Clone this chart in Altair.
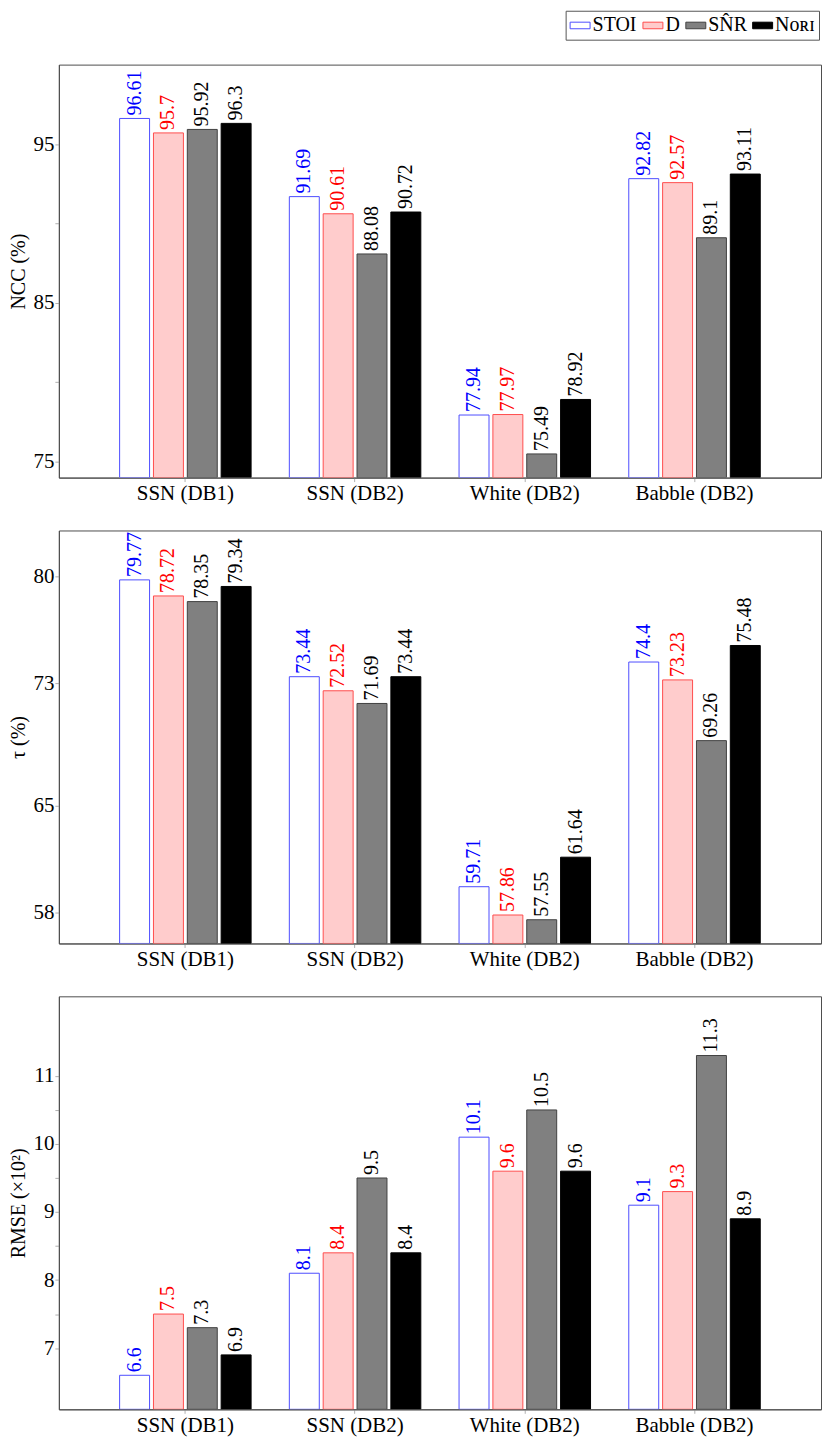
import altair as alt
import pandas as pd

categories = ["SSN (DB1)", "SSN (DB2)", "White (DB2)", "Babble (DB2)"]
series = ["STOI", "D", "SN\u0302R", "N\u1d0f\u0280\u026a"]

ncc_stoi = [96.61, 91.69, 77.94, 92.82]
ncc_d = [95.7, 90.61, 77.97, 92.57]
ncc_snr = [95.92, 88.08, 75.49, 89.1]
ncc_nori = [96.3, 90.72, 78.92, 93.11]

tau_stoi = [79.77, 73.44, 59.71, 74.4]
tau_d = [78.72, 72.52, 57.86, 73.23]
tau_snr = [78.35, 71.69, 57.55, 69.26]
tau_nori = [79.34, 73.44, 61.64, 75.48]

rmse_stoi = [6.6, 8.1, 10.1, 9.1]
rmse_d = [7.5, 8.4, 9.6, 9.3]
rmse_snr = [7.3, 9.5, 10.5, 11.3]
rmse_nori = [6.9, 8.4, 9.6, 8.9]

fills = ["#ffffff", "#ffcccc", "#808080", "#000000"]
strokes = ["#4d4dff", "#ff4d4d", "#404040", "#000000"]
text_colors = ["#0000ff", "#ff0000", "#000000", "#000000"]

FONT = "Liberation Serif"
W = 764
H = 414


def make_df(lists):
    rows = []
    for s, vals in zip(series, lists):
        for c, v in zip(categories, vals):
            rows.append({"cat": c, "series": s, "value": v, "label": str(v)})
    return pd.DataFrame(rows)


def panel(lists, ytitle, domain, ticks, label_expr, show_legend):
    df = make_df(lists)
    leg = None
    if show_legend:
        leg = alt.Legend(
            title=None, orient="none", legendX=508, legendY=-54,
            direction="horizontal", columns=4,
            symbolType="M-1,-0.33H1V0.33H-1Z", symbolSize=400,
            symbolStrokeWidth=1, labelFont=FONT, labelFontSize=20,
            labelColor="#000000",
            labelOffset=2, columnPadding=3, padding=4,
            strokeColor="#555555", fillColor="#ffffff",
        )
    base = alt.Chart(df).encode(
        x=alt.X("cat:N", sort=categories,
                scale=alt.Scale(paddingInner=0.2253, paddingOuter=0.3579),
                axis=alt.Axis(title=None, labelAngle=0, labelFont=FONT,
                              labelFontSize=21, labelColor="#000000",
                              tickColor="#b0b0b0", tickSize=4,
                              labelPadding=1, domainColor="#4d4d4d")),
        xOffset=alt.XOffset("series:N", sort=series,
                            scale=alt.Scale(paddingInner=0.115, paddingOuter=0)),
        y=alt.Y("value:Q",
                scale=alt.Scale(domain=domain, zero=False, nice=False),
                axis=alt.Axis(title=ytitle, values=ticks, labelExpr=label_expr,
                              grid=False, labelFont=FONT, labelFontSize=21,
                              labelColor="#000000", tickColor="#b0b0b0",
                              tickSize=4, labelPadding=1,
                              titleFont=FONT, titleFontSize=20,
                              titleFontWeight="normal", titleColor="#000000",
                              titlePadding=4, domainColor="#4d4d4d")),
    )
    bars = base.mark_bar(clip=True, strokeWidth=1).encode(
        y2=alt.datum(domain[0]),
        fill=alt.Fill("series:N", sort=series,
                      scale=alt.Scale(domain=series, range=fills), legend=leg),
        stroke=alt.Stroke("series:N", sort=series,
                          scale=alt.Scale(domain=series, range=strokes), legend=leg),
    )
    text = base.mark_text(angle=270, align="left", baseline="middle", dx=3,
                          font=FONT, fontSize=20).encode(
        text="label:N",
        color=alt.Color("series:N", sort=series,
                        scale=alt.Scale(domain=series, range=text_colors),
                        legend=None),
    )
    return alt.layer(bars, text).properties(width=W, height=H)


p1 = panel([ncc_stoi, ncc_d, ncc_snr, ncc_nori], "NCC (%)", [74, 100],
           [75, 80, 85, 90, 95], "datum.value % 10 == 5 ? datum.label : ''", True)
p2 = panel([tau_stoi, tau_d, tau_snr, tau_nori], "\u03c4 (%)", [56, 83],
           [58, 65, 73, 80], "datum.label", False)
p3 = panel([rmse_stoi, rmse_d, rmse_snr, rmse_nori], "RMSE (\u00d710\u00b2)", [6.1, 12.17],
           [7, 7.5, 8, 8.5, 9, 9.5, 10, 10.5, 11],
           "datum.value % 1 == 0 ? format(datum.value, 'd') : ''", False)

chart = alt.vconcat(p1, p2, p3, spacing=25).resolve_scale(
    fill="independent", stroke="independent", color="independent"
).properties(padding=0).configure_view(stroke="#4d4d4d", strokeWidth=1)

chart.save("out.html", embed_options={"renderer": "svg", "actions": False})
